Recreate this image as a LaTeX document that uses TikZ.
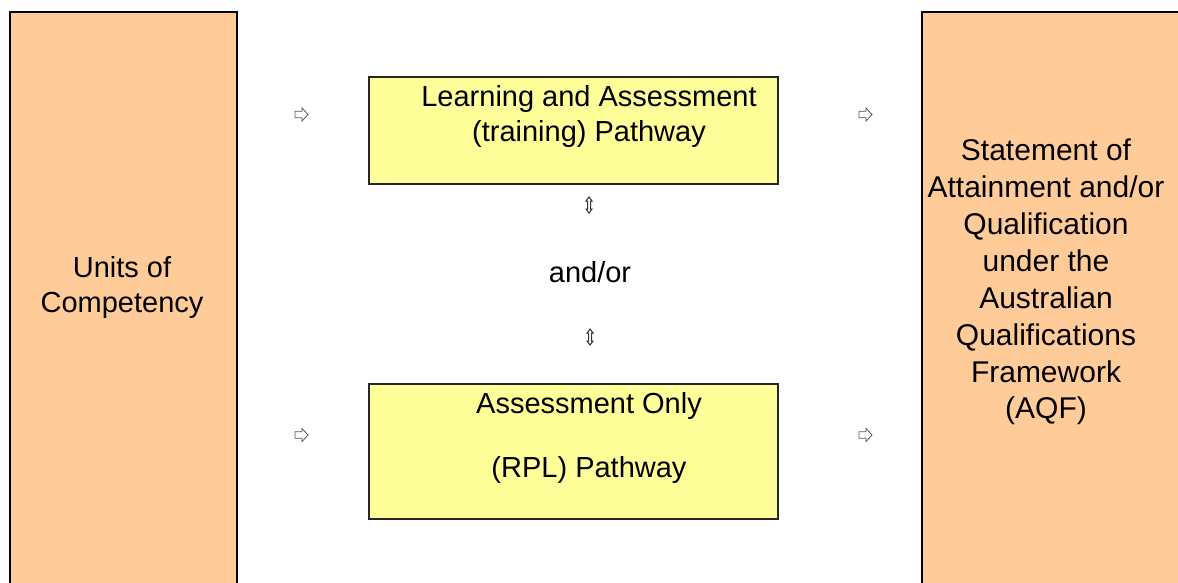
\documentclass[tikz,border=0pt]{standalone}
\usepackage{fontspec}
\setmainfont{Liberation Sans}
\definecolor{peach}{HTML}{FFCC99}
\definecolor{paleyellow}{HTML}{FFFF99}
\definecolor{arrowgray}{HTML}{555555}
\tikzset{
  sidebox/.style={draw=black, line width=2pt, fill=peach, anchor=north west, inner sep=0pt},
  pathbox/.style={draw=black!85, line width=2pt, fill=paleyellow, anchor=north west, inner sep=0pt},
  lbl/.style={align=center, inner sep=0pt, font=\fontsize{29}{35}\selectfont},
  rarrowline/.style={draw=arrowgray, line width=0.8pt, fill=white, line join=miter},
  udarrowline/.style={draw=black!80, line width=1pt, fill=white, line join=miter}
}
\begin{document}
\begin{tikzpicture}[x=1pt,y=-1pt]
\useasboundingbox (0,0) rectangle (1178,583);
\clip (0,0) rectangle (1178,583);
% side boxes
\node[sidebox, minimum width=227pt, minimum height=600pt] (uoc) at (9,11) {};
\node[sidebox, minimum width=280pt, minimum height=600pt] (soa) at (921,11) {};
\node[lbl] (uoct) at (122,288) {Units of\\Competency};
\node[lbl, font=\fontsize{30}{36.9}\selectfont] (soat) at (1046,282) {Statement of\\Attainment and/or\\Qualification\\under the\\Australian\\Qualifications\\Framework\\(AQF)};
% pathway boxes
\node[pathbox, minimum width=409pt, minimum height=107pt] (lap) at (368,76) {};
\node[pathbox, minimum width=409pt, minimum height=135pt] (aop) at (368,383) {};
\node[lbl, anchor=north] (lapt) at (589,85) {Learning and Assessment\\(training) Pathway};
\node[lbl, anchor=north, font=\fontsize{29}{32}\selectfont] (aopt) at (589,392) {Assessment Only\\[32pt](RPL) Pathway};
\node[lbl] (andor) at (590,272) {and/or};
% arrow glyphs
\coordinate (a1) at (301.5,114.5);
\coordinate (a2) at (865.5,114.5);
\coordinate (a3) at (301.5,435);
\coordinate (a4) at (865.5,435);
\coordinate (u1) at (589,205);
\coordinate (u2) at (590,337);
\foreach \c in {a1,a2,a3,a4}{
  \draw[rarrowline] (\c) ++(-6.5,-3.2) -- ++(7,0) -- ++(0,-3.3) -- ++(6,6.5) -- ++(-6,6.5) -- ++(0,-3.3) -- ++(-7,0) -- cycle;
}
\foreach \c in {u1,u2}{
  \draw[udarrowline] (\c) ++(0,-8) -- ++(3,4) -- ++(-1.5,0) -- ++(0,8) -- ++(1.5,0) -- ++(-3,4) -- ++(-3,-4) -- ++(1.5,0) -- ++(0,-8) -- ++(-1.5,0) -- cycle;
}
\end{tikzpicture}
\end{document}
